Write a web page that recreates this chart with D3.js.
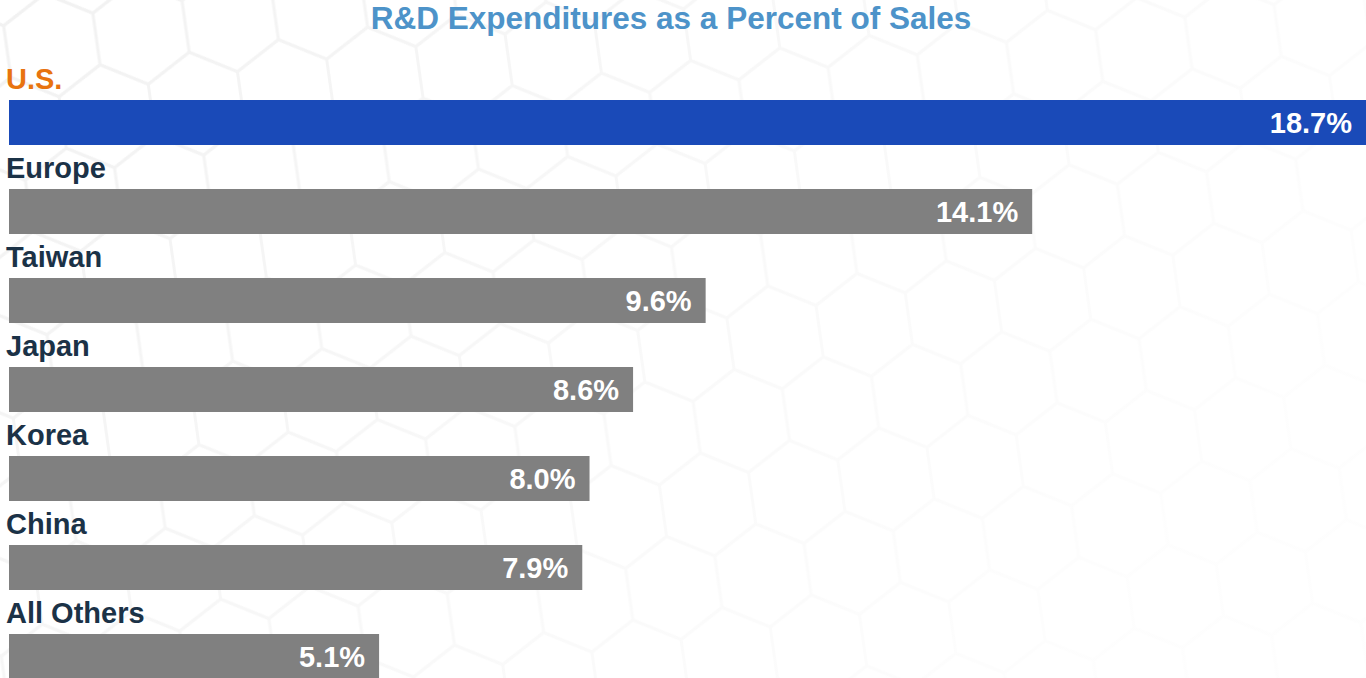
<!DOCTYPE html>
<html>
<head>
<meta charset="utf-8">
<script src="https://cdn.jsdelivr.net/npm/d3@7"></script>
<style>
  html, body { margin: 0; padding: 0; background: #fff; }
  svg, svg text { display: block; font-family: "Liberation Sans", Arial, sans-serif; }
</style>
</head>
<body>
<div class="chart"></div>
<script>
// data
const regions = ["U.S.", "Europe", "Taiwan", "Japan", "Korea", "China", "All Others"];
const rdPercent = [18.7, 14.1, 9.6, 8.6, 8.0, 7.9, 5.1];
const highlight = "U.S.";

const width = 1366, height = 678;

const svg = d3.select(".chart")
  .append("svg")
  .attr("width", width)
  .attr("height", height);

// faint honeycomb background
const hexR = 52;
const hexW = Math.sqrt(3) * hexR;
const defs = svg.append("defs");
const pat = defs.append("pattern")
  .attr("id", "hex")
  .attr("patternUnits", "userSpaceOnUse")
  .attr("patternTransform", "rotate(-8)")
  .attr("width", hexW)
  .attr("height", hexR * 3);
const hexPath = (cx, cy) => {
  let p = "";
  for (let i = 0; i < 6; i++) {
    const a = Math.PI / 180 * (60 * i - 90);
    p += (i === 0 ? "M" : "L") + (cx + hexR * Math.cos(a)) + "," + (cy + hexR * Math.sin(a));
  }
  return p + "Z";
};
[[hexW / 2, hexR], [0, hexR * 2.5], [hexW, hexR * 2.5], [0, -hexR * 0.5], [hexW, -hexR * 0.5]].forEach(c => {
  pat.append("path")
    .attr("d", hexPath(c[0], c[1]))
    .attr("fill", "none")
    .attr("stroke", "#f0f0f0")
    .attr("stroke-width", 3);
});
const fade = defs.append("linearGradient")
  .attr("id", "fade")
  .attr("x1", "0").attr("y1", "0").attr("x2", "1").attr("y2", "0.4");
fade.append("stop").attr("offset", "0").attr("stop-color", "#fff").attr("stop-opacity", 0.1);
fade.append("stop").attr("offset", "0.6").attr("stop-color", "#fff").attr("stop-opacity", 0.6);
fade.append("stop").attr("offset", "1").attr("stop-color", "#fff").attr("stop-opacity", 0.9);

svg.append("rect").attr("width", width).attr("height", height).attr("fill", "url(#hex)");
svg.append("rect").attr("width", width).attr("height", height).attr("fill", "url(#fade)");

// scales
const x = d3.scaleLinear().domain([0, 18.7]).range([9, 1366]);
const y = d3.scaleBand().domain(regions).range([100, 679]).paddingInner(44 / 89).paddingOuter(0);

const rows = regions.map((r, i) => ({ region: r, value: rdPercent[i] }));

// title
svg.append("text")
  .attr("x", 671)
  .attr("y", 29)
  .attr("text-anchor", "middle")
  .attr("font-size", "31.5px")
  .attr("font-weight", "bold")
  .attr("fill", "#4d93c9")
  .text("R&D Expenditures as a Percent of Sales");

const g = svg.selectAll(".row")
  .data(rows)
  .enter()
  .append("g")
  .attr("class", "row");

g.append("rect")
  .attr("x", x(0))
  .attr("y", d => y(d.region))
  .attr("width", d => x(d.value) - x(0))
  .attr("height", y.bandwidth())
  .attr("fill", d => d.region === highlight ? "#1a4ab8" : "#808080");

// category labels above each bar
g.append("text")
  .attr("x", 6)
  .attr("y", d => y(d.region) - 11)
  .attr("font-size", "29px")
  .attr("font-weight", "bold")
  .attr("fill", d => d.region === highlight ? "#e8730f" : "#1b3247")
  .text(d => d.region);

// value labels inside bars
g.append("text")
  .attr("x", d => x(d.value) - 14)
  .attr("y", d => y(d.region) + y.bandwidth() / 2)
  .attr("dy", "0.36em")
  .attr("text-anchor", "end")
  .attr("font-size", "29px")
  .attr("font-weight", "bold")
  .attr("fill", "#fff")
  .text(d => d.value.toFixed(1) + "%");
</script>
</body>
</html>
